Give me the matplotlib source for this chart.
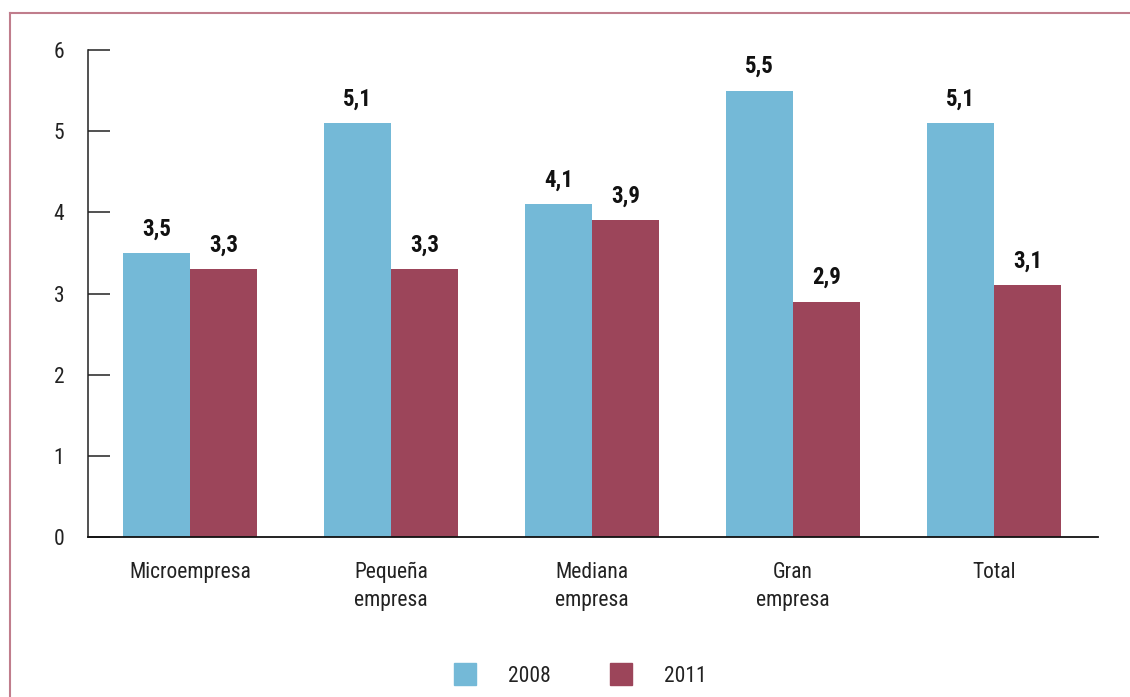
import matplotlib.pyplot as plt
import numpy as np
from matplotlib.lines import Line2D

categories = ["Microempresa", "Pequeña\nempresa", "Mediana\nempresa", "Gran\nempresa", "Total"]
values2008 = [3.5, 5.1, 4.1, 5.5, 5.1]
values2011 = [3.3, 3.3, 3.9, 2.9, 3.1]
yticks = [0, 1, 2, 3, 4, 5, 6]

blue = "#74b9d7"
maroon = "#9c455a"
frameColor = "#c07d8c"

plt.rcParams["font.family"] = ["Roboto Condensed", "DejaVu Sans"]

fig = plt.figure(figsize=(11.3, 6.97), dpi=100)
ax = fig.add_axes([88 / 1130, 1 - 537 / 697, (1098 - 88) / 1130, (537 - 50) / 697])

x = np.arange(len(categories))
width = 0.333
bars08 = ax.bar(x - width / 2, values2008, width, color=blue, label="2008")
bars11 = ax.bar(x + width / 2, values2011, width, color=maroon, label="2011")

# value labels above each bar, decimal comma
for bars, vals in [(bars08, values2008), (bars11, values2011)]:
    for b, v in zip(bars, vals):
        ax.annotate(f"{v:.1f}".replace(".", ","), (b.get_x() + b.get_width() / 2, v),
                    xytext=(0, 9), textcoords="offset points", ha="center", va="bottom",
                    fontsize=16.5, fontweight="bold", color="#111111")

ax.set_xlim(-0.507, 4.517)
ax.set_ylim(0, 6)
ax.set_yticks(yticks)
ax.set_yticklabels([str(t) for t in yticks])
ax.set_xticks(x)
ax.set_xticklabels(categories, linespacing=1.45)

for side in ["top", "right"]:
    ax.spines[side].set_visible(False)
ax.spines["left"].set_color("#222222")
ax.spines["bottom"].set_color("#111111")
ax.spines["left"].set_linewidth(1.1)
ax.spines["bottom"].set_linewidth(1.3)

ax.tick_params(axis="y", direction="in", length=16, width=1.1, pad=17,
               labelsize=15.5, colors="#222222")
ax.tick_params(axis="x", length=0, pad=18, labelsize=15.5, colors="#222222")

# legend below the plot
handles = [Line2D([], [], marker="s", linestyle="none", markersize=16.5, color=blue),
           Line2D([], [], marker="s", linestyle="none", markersize=16.5, color=maroon)]
fig.legend(handles, ["2008", "2011"], loc="center", bbox_to_anchor=(575 / 1130, 1 - 676 / 697),
           ncol=2, frameon=False, fontsize=15.5, handletextpad=1.0, columnspacing=2.3,
           labelcolor="#222222")

# thin frame on the left and top edges
fig.add_artist(Line2D([10 / 1130, 10 / 1130], [0, 1 - 13 / 697], transform=fig.transFigure,
                      color=frameColor, linewidth=1.5))
fig.add_artist(Line2D([10 / 1130, 1], [1 - 13 / 697, 1 - 13 / 697], transform=fig.transFigure,
                      color=frameColor, linewidth=1.5))

fig.savefig("out.png", dpi=100)
